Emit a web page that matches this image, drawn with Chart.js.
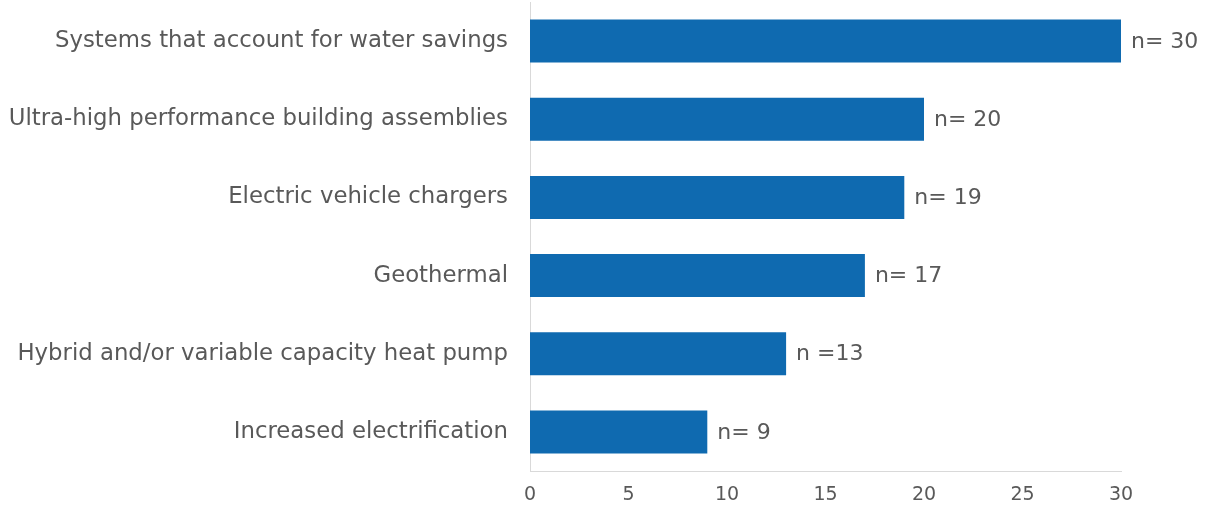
<!DOCTYPE html>
<html>
<head>
<meta charset="utf-8">
<script src="https://cdn.jsdelivr.net/npm/chart.js@4/dist/chart.umd.min.js"></script>
<style>
  html, body { margin: 0; padding: 0; background: #fff; }
  .chart-wrap { width: 1209px; height: 514px; position: relative; }
</style>
</head>
<body>
<div class="chart-wrap"><canvas id="chart"></canvas></div>
<script>
// 항목 / 값 / 표시 라벨
const categories = [
  'Systems that account for water savings',
  'Ultra-high performance building assemblies',
  'Electric vehicle chargers',
  'Geothermal',
  'Hybrid and/or variable capacity heat pump',
  'Increased electrification'
];
const counts = [30, 20, 19, 17, 13, 9];
const countLabels = ['n= 30', 'n= 20', 'n= 19', 'n= 17', 'n =13', 'n= 9'];
const xTicks = [0, 5, 10, 15, 20, 25, 30];

const FONT = '"DejaVu Sans", sans-serif';
const GRAY = '#595959';

// 막대 끝에 n= 라벨 그리기
const barLabels = {
  id: 'barLabels',
  afterDatasetsDraw(chart) {
    const ctx = chart.ctx;
    const meta = chart.getDatasetMeta(0);
    ctx.save();
    ctx.font = '22px ' + FONT;
    ctx.fillStyle = GRAY;
    ctx.textAlign = 'left';
    ctx.textBaseline = 'middle';
    meta.data.forEach((bar, i) => {
      ctx.fillText(countLabels[i], bar.x + 10, bar.y + 1);
    });
    ctx.restore();
  }
};

new Chart(document.getElementById('chart'), {
  type: 'bar',
  data: {
    labels: categories,
    datasets: [{
      data: counts,
      backgroundColor: '#0f6ab0',
      categoryPercentage: 0.55,
      barPercentage: 1
    }]
  },
  options: {
    indexAxis: 'y',
    responsive: true,
    maintainAspectRatio: false,
    animation: false,
    layout: { padding: { top: 2, right: 88, left: 0, bottom: 0 } },
    plugins: {
      legend: { display: false },
      tooltip: { enabled: false }
    },
    scales: {
      x: {
        min: 0,
        max: 30,
        afterBuildTicks: scale => { scale.ticks = xTicks.map(v => ({ value: v })); },
        afterFit: scale => {
          scale.height = 43;
          scale.paddingLeft = 0;
          scale.paddingRight = 0;
        },
        grid: { display: false, drawTicks: false },
        border: { display: true, color: '#d9d9d9', width: 1 },
        ticks: { color: GRAY, font: { family: FONT, size: 19 }, padding: 13 }
      },
      y: {
        afterFit: scale => {
          scale.width = 530;
          scale.paddingTop = 0;
          scale.paddingBottom = 0;
        },
        grid: { display: false, drawTicks: false },
        border: { display: true, color: '#d9d9d9', width: 1 },
        ticks: { color: GRAY, font: { family: FONT, size: 22.8 }, padding: 22 }
      }
    }
  },
  plugins: [barLabels]
});
</script>
</body>
</html>
